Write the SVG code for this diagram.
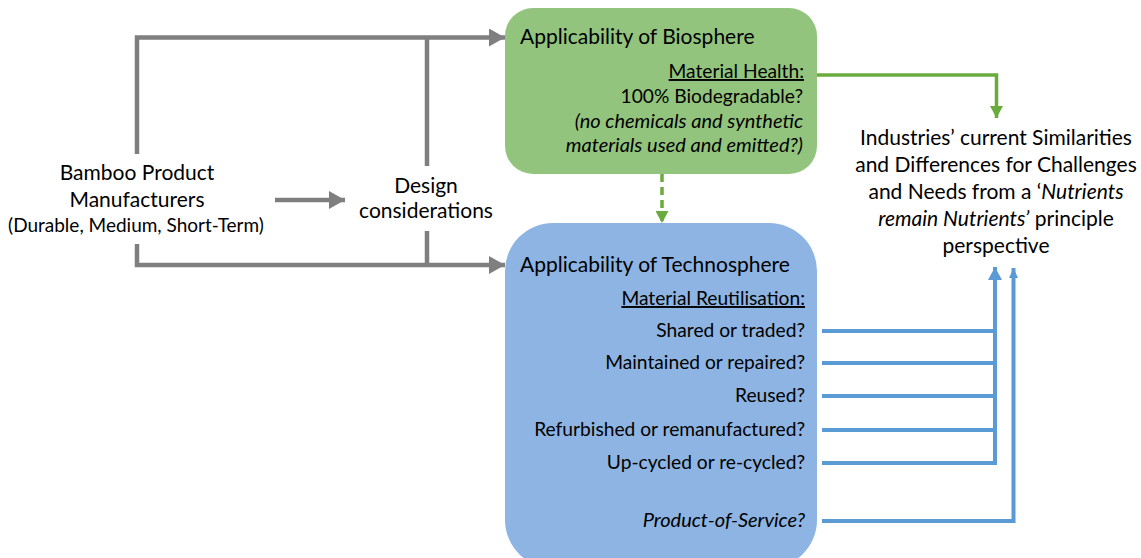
<svg xmlns="http://www.w3.org/2000/svg" width="1141" height="558" viewBox="0 0 1141 558">
<style>
text{font-family:Lato,"Open Sans","Liberation Sans",sans-serif;fill:#000}
.h{font-size:21px}
.t{font-size:19.2px}
.ti{font-size:20px}
.s{font-size:19px}
.r{text-anchor:end}
.m{text-anchor:middle}
.i{font-style:italic}
.u{text-decoration:underline}
.gray{stroke:#7f7f7f;stroke-width:4.5;fill:none}
.grn{stroke:#6aab3e;stroke-width:3.5;fill:none}
.blu{stroke:#5b9bd5;stroke-width:4;fill:none}
</style>
<defs>
<marker id="ag" markerUnits="userSpaceOnUse" markerWidth="16" markerHeight="18" refX="16" refY="9" orient="auto"><path d="M0,0 L16,9 L0,18 Z" fill="#7f7f7f"/></marker>
<marker id="agr" markerUnits="userSpaceOnUse" markerWidth="12" markerHeight="13" refX="12" refY="6.5" orient="auto"><path d="M0,0 L12,6.5 L0,13 Z" fill="#6aab3e"/></marker>
<marker id="ab" markerUnits="userSpaceOnUse" markerWidth="13" markerHeight="14" refX="13" refY="7" orient="auto"><path d="M0,0 L13,7 L0,14 Z" fill="#5b9bd5"/></marker>
<marker id="ab2" markerUnits="userSpaceOnUse" markerWidth="10" markerHeight="9" refX="10" refY="4.5" orient="auto"><path d="M0,0 L10,4.5 L0,9 Z" fill="#5b9bd5"/></marker>
</defs>

<g id="connectors">
<path class="gray" d="M137,154 V37.5 H505" marker-end="url(#ag)"/>
<path class="gray" d="M427,37.5 V166"/>
<path class="gray" d="M137,244 V265 H505" marker-end="url(#ag)"/>
<path class="gray" d="M427,231 V265"/>
<path class="gray" d="M275,200 H345" marker-end="url(#ag)"/>
<path class="grn" d="M806,75 H996.5 V118" marker-end="url(#agr)"/>
<path class="grn" d="M662,174 V223" stroke-dasharray="8,5" marker-end="url(#agr)"/>
<path class="blu" d="M822,331 H995 M822,363 H995 M822,396 H995 M822,430 H995 M822,463 H995"/>
<path class="blu" d="M995,465 V267" marker-end="url(#ab)"/>
<path class="blu" stroke-width="2.7" d="M822,521 H1013.5 V268" marker-end="url(#ab2)"/>
</g>

<g id="manufacturers">
<text class="h m" x="137" y="180">Bamboo Product</text>
<text class="h m" x="137" y="207">Manufacturers</text>
<text class="s m" x="136" y="232">(Durable, Medium, Short-Term)</text>
</g>

<g id="design">
<text class="h m" x="426" y="193">Design</text>
<text class="h m" x="426" y="218">considerations</text>
</g>

<g id="biosphere">
<rect x="505" y="8" width="312" height="166" rx="28" fill="#93c47d"/>
<text class="h" x="520" y="44">Applicability of Biosphere</text>
<text class="t r u" x="804" y="78">Material Health:</text>
<text class="t r" x="803" y="103">100% Biodegradable?</text>
<text class="ti r i" x="803" y="128">(no chemicals and synthetic</text>
<text class="ti r i" x="803" y="152">materials used and emitted?)</text>
</g>

<g id="technosphere">
<rect x="505" y="223" width="312" height="345" rx="48" fill="#8db4e2"/>
<text class="h" x="520" y="272">Applicability of Technosphere</text>
<text class="t r u" x="805" y="305">Material Reutilisation:</text>
<text class="t r" x="805" y="337">Shared or traded?</text>
<text class="t r" x="805" y="369">Maintained or repaired?</text>
<text class="t r" x="805" y="402">Reused?</text>
<text class="t r" x="805" y="436">Refurbished or remanufactured?</text>
<text class="t r" x="805" y="469">Up-cycled or re-cycled?</text>
<text class="ti r i" x="805" y="527">Product-of-Service?</text>
</g>

<g id="industries">
<text class="h m" x="996" y="145">Industries’ current Similarities</text>
<text class="h m" x="996" y="172">and Differences for Challenges</text>
<text class="h m" x="996" y="199">and Needs from a ‘<tspan class="i">Nutrients</tspan></text>
<text class="h m" x="996" y="226"><tspan class="i">remain Nutrients’</tspan> principle</text>
<text class="h m" x="996" y="253">perspective</text>
</g>
</svg>
